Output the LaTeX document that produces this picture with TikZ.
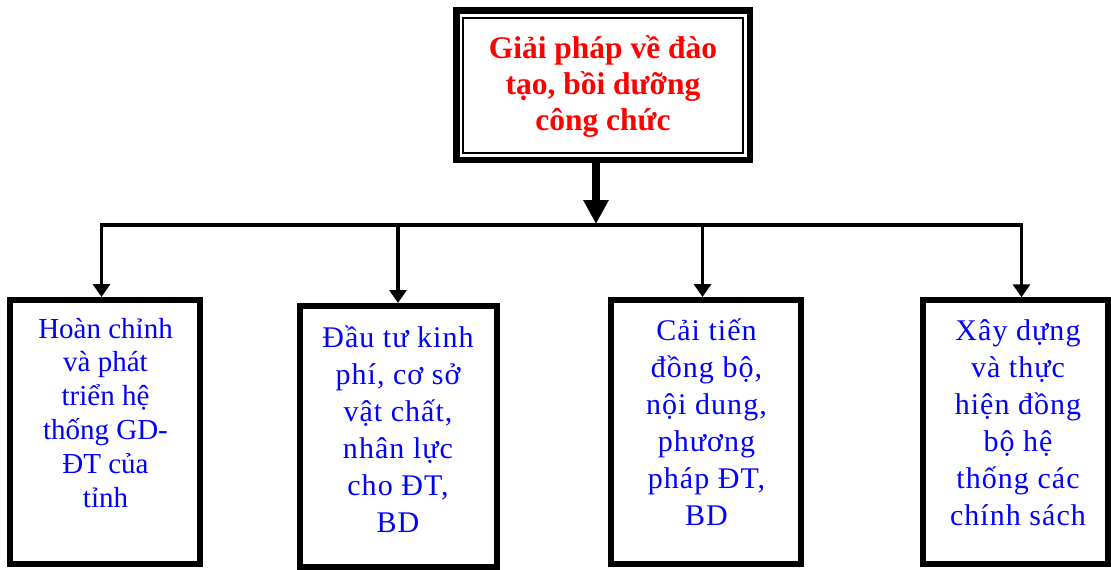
\documentclass[tikz,border=0pt]{standalone}
\usepackage{fontspec}
\setmainfont{Liberation Serif}
\newfontfamily\widefont[LetterSpace=3.5]{Liberation Serif}
\usetikzlibrary{arrows.meta}
\definecolor{topred}{RGB}{255,0,0}
\definecolor{txtblue}{RGB}{0,0,255}
\tikzset{
  box/.style={draw=black, line width=6pt, rectangle, inner sep=0pt},
  outerbox/.style={draw=black, line width=6.5pt, rectangle, inner sep=0pt},
  innerbox/.style={draw=black, line width=2pt, rectangle, inner sep=0pt},
  txt/.style={inner sep=0pt, outer sep=0pt, text=txtblue, anchor=base},
  toptxt/.style={inner sep=0pt, outer sep=0pt, text=topred, anchor=base},
  bigarrow/.style={draw=black, line width=8pt, -{Triangle[width=24pt,length=24pt]}},
  conn/.style={draw=black, line width=3.5pt, line join=miter},
  smalltip/.style={-{Triangle[width=17pt,length=13pt]}},
}
\begin{document}
\begin{tikzpicture}[x=1pt,y=-1pt]
\useasboundingbox (0,0) rectangle (1111,570);
% top box
\node[outerbox, minimum width=293.5pt, minimum height=149.5pt] (topout) at (603.25,85.25) {};
\node[innerbox, minimum width=280pt, minimum height=134.7pt] (topin) at (603,85.6) {};
\node[toptxt] (toptext) at (603,58) {\begin{minipage}[t]{270pt}\centering\fontsize{31.5}{36}\selectfont\bfseries Giải pháp về đào\\ tạo, bồi dưỡng\\ công chức\end{minipage}};
% bottom boxes
\node[box, minimum width=190pt, minimum height=264pt] (b1) at (105,432) {};
\node[box, minimum width=197pt, minimum height=261pt] (b2) at (398.3,436.5) {};
\node[box, minimum width=190pt, minimum height=264pt] (b3) at (706,432) {};
\node[box, minimum width=185pt, minimum height=264pt] (b4) at (1015.5,432.3) {};
% texts
\node[txt] (t1) at (105.5,338) {\begin{minipage}[t]{180pt}\centering\fontsize{29}{33.8}\selectfont Hoàn chỉnh\\ và phát\\ triển hệ\\ thống GD-\\ ĐT của\\ tỉnh\end{minipage}};
\node[txt] (t2) at (398,347) {\begin{minipage}[t]{185pt}\centering\widefont\fontsize{30}{37}\selectfont Đầu tư kinh\\ phí, cơ sở\\ vật chất,\\ nhân lực\\ cho ĐT,\\ BD\end{minipage}};
\node[txt] (t3) at (706.5,340) {\begin{minipage}[t]{180pt}\centering\widefont\fontsize{30}{37}\selectfont Cải tiến\\ đồng bộ,\\ nội dung,\\ phương\\ pháp ĐT,\\ BD\end{minipage}};
\node[txt] (t4) at (1018,340) {\begin{minipage}[t]{180pt}\centering\widefont\fontsize{30}{37}\selectfont Xây dựng\\ và thực\\ hiện đồng\\ bộ hệ\\ thống các\\ chính sách\end{minipage}};
% connectors
\coordinate (hub) at (596,224);
\coordinate (c1) at (101.5,225);
\coordinate (c2) at (398,225);
\coordinate (c3) at (702.5,225);
\coordinate (c4) at (1021.5,225);
\draw[bigarrow] (topout.south -| hub) -- (hub);
\draw[conn, {Triangle[width=17pt,length=13pt]}-{Triangle[width=17pt,length=13pt]}] (b1.north -| c1) -- (c1) -- (c4) -- (b4.north -| c4);
\draw[conn, smalltip] (c2) -- (b2.north -| c2);
\draw[conn, smalltip] (c3) -- (b3.north -| c3);
\end{tikzpicture}
\end{document}
